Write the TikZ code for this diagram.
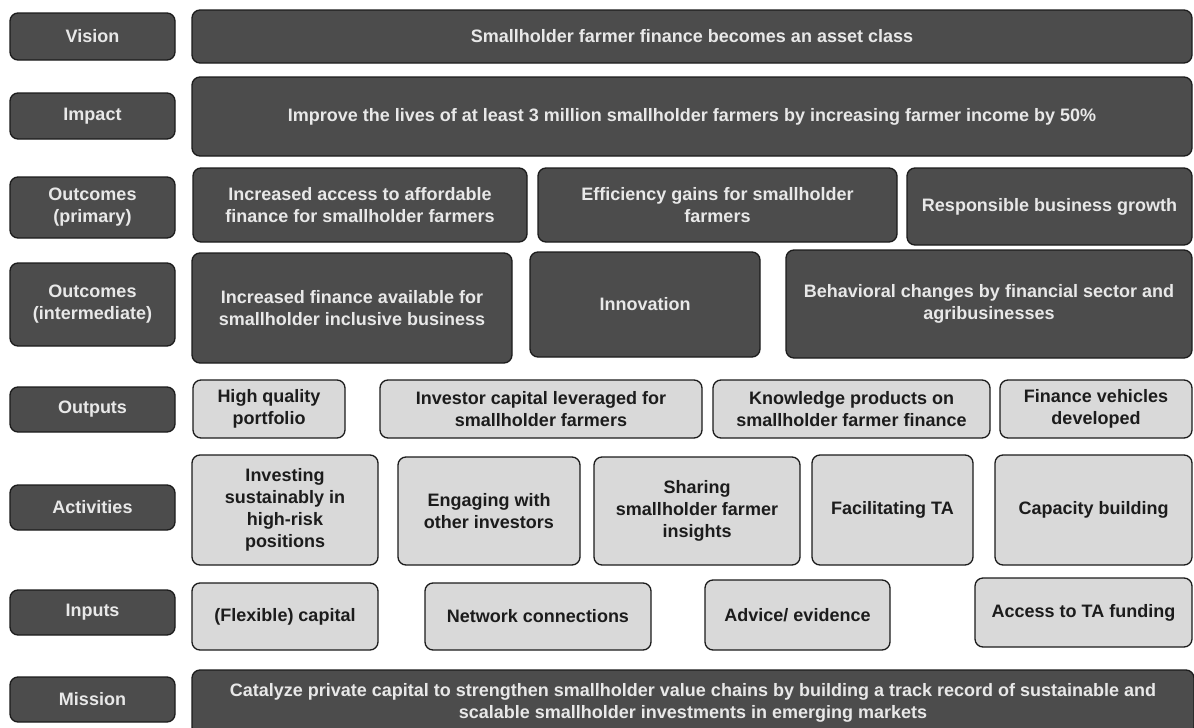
\documentclass[tikz,border=0pt]{standalone}
\usepackage{fontspec}
\setmainfont{Liberation Sans}
\definecolor{dkfill}{RGB}{76,76,76}
\definecolor{ltfill}{RGB}{217,217,217}
\definecolor{dktext}{RGB}{232,232,232}
\definecolor{lttext}{RGB}{28,28,28}
\definecolor{bordc}{RGB}{28,28,28}
\newcommand\fs{\fontsize{18}{22}\selectfont}
\tikzset{
  boxbase/.style={draw=bordc, line width=1.3pt, rounded corners=8pt, align=center, inner sep=0pt, font=\bfseries\fs},
  dk/.style={boxbase, fill=dkfill, text=dktext},
  lt/.style={boxbase, fill=ltfill, text=lttext},
}
\newcommand\bx[7]{\node[#2, minimum width={#5-#3}, minimum height={#6-#4}] (#1) at ({(#3+#5)/2},{-(#4+#6)/2}) {#7};}
\begin{document}
\begin{tikzpicture}[x=1pt,y=1pt]
\useasboundingbox (0,0) rectangle (1194,-728);
\fill[white] (0,0) rectangle (1194,-728);
% row 1
\bx{vislab}{dk}{10}{13}{175}{60}{Vision}
\bx{vis}{dk}{192}{10}{1192}{63}{Smallholder farmer finance becomes an asset class}
% row 2
\bx{implab}{dk}{10}{93}{175}{139}{Impact}
\bx{imp}{dk}{192}{77}{1192}{156}{Improve the lives of at least 3 million smallholder farmers by increasing farmer income by 50\%}
% row 3
\bx{prilab}{dk}{10}{177}{175}{238}{Outcomes\\(primary)}
\bx{p1}{dk}{193}{168}{527}{242}{Increased access to affordable\\finance for smallholder farmers}
\bx{p2}{dk}{538}{168}{897}{242}{Efficiency gains for smallholder\\farmers}
\bx{p3}{dk}{907}{168}{1192}{245}{Responsible business growth}
% row 4
\bx{intlab}{dk}{10}{263}{175}{346}{Outcomes\\(intermediate)}
\bx{i1}{dk}{192}{253}{512}{363}{Increased finance available for\\smallholder inclusive business}
\bx{i2}{dk}{530}{252}{760}{357}{Innovation}
\bx{i3}{dk}{786}{250}{1192}{358}{Behavioral changes by financial sector and\\agribusinesses}
% row 5
\bx{outlab}{dk}{10}{387}{175}{432}{Outputs}
\bx{o1}{lt}{193}{380}{345}{438}{High quality\\portfolio}
\bx{o2}{lt}{380}{380}{702}{438}{Investor capital leveraged for\\smallholder farmers}
\bx{o3}{lt}{713}{380}{990}{438}{Knowledge products on\\smallholder farmer finance}
\bx{o4}{lt}{1000}{380}{1192}{438}{Finance vehicles\\developed}
% row 6
\bx{actlab}{dk}{10}{485}{175}{530}{Activities}
\bx{a1}{lt}{192}{455}{378}{565}{Investing\\sustainably in\\high-risk\\positions}
\bx{a2}{lt}{398}{457}{580}{565}{Engaging with\\other investors}
\bx{a3}{lt}{594}{457}{800}{565}{Sharing\\smallholder farmer\\insights}
\bx{a4}{lt}{812}{455}{973}{565}{Facilitating TA}
\bx{a5}{lt}{995}{455}{1192}{565}{Capacity building}
% row 7
\bx{inplab}{dk}{10}{590}{175}{635}{Inputs}
\bx{n1}{lt}{192}{583}{378}{650}{(Flexible) capital}
\bx{n2}{lt}{425}{583}{651}{650}{Network connections}
\bx{n3}{lt}{705}{580}{890}{650}{Advice/ evidence}
\bx{n4}{lt}{975}{578}{1192}{647}{Access to TA funding}
% row 8
\bx{mislab}{dk}{10}{677}{175}{722}{Mission}
\bx{mis}{dk}{192}{670}{1194}{735}{Catalyze private capital to strengthen smallholder value chains by building a track record of sustainable and\\scalable smallholder investments in emerging markets}
\end{tikzpicture}
\end{document}
